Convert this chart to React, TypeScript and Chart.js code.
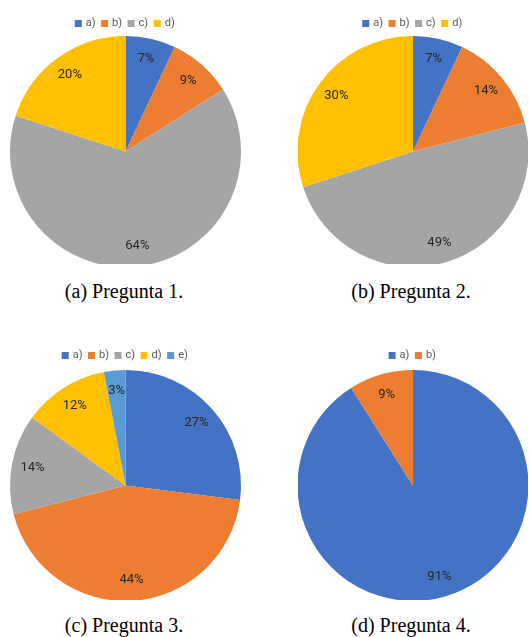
import React, { useEffect, useRef } from "react";
import { Chart, registerables } from "chart.js";

Chart.register(...registerables);

// ---- data ----
const labelsP1 = ["a)", "b)", "c)", "d)"];
const valuesP1 = [7, 9, 64, 20];

const labelsP2 = ["a)", "b)", "c)", "d)"];
const valuesP2 = [7, 14, 49, 30];

const labelsP3 = ["a)", "b)", "c)", "d)", "e)"];
const valuesP3 = [27, 44, 14, 12, 3];

const labelsP4 = ["a)", "b)"];
const valuesP4 = [91, 9];

const captions = ["(a) Pregunta 1.", "(b) Pregunta 2.", "(c) Pregunta 3.", "(d) Pregunta 4."];

const palette = ["#4472C4", "#ED7D31", "#A5A5A5", "#FFC000", "#5B9BD5"];

const pctLabels = {
  id: "pctLabels",
  afterDatasetsDraw(chart: any) {
    const ctx = chart.ctx;
    const meta = chart.getDatasetMeta(0);
    const data = chart.data.datasets[0].data;
    ctx.save();
    ctx.font = "13px Roboto";
    ctx.fillStyle = "#262626";
    ctx.textAlign = "center";
    ctx.textBaseline = "middle";
    meta.data.forEach((arc: any, i: number) => {
      const { x, y, startAngle, endAngle, outerRadius } = arc.getProps(
        ["x", "y", "startAngle", "endAngle", "outerRadius"],
        true
      );
      const mid = (startAngle + endAngle) / 2;
      const r = outerRadius * 0.82;
      ctx.fillText(data[i] + "%", x + Math.cos(mid) * r, y + Math.sin(mid) * r);
    });
    ctx.restore();
  },
};

type PieProps = {
  labels: string[];
  values: number[];
  left: number;
  top: number;
  width: number;
  height: number;
};

function PieChart({ labels, values, left, top, width, height }: PieProps) {
  const ref = useRef<HTMLCanvasElement | null>(null);
  useEffect(() => {
    if (!ref.current) return;
    const chart = new Chart(ref.current, {
      type: "pie",
      data: {
        labels,
        datasets: [
          {
            data: values,
            backgroundColor: palette.slice(0, values.length),
            borderWidth: 0,
            clip: false as any,
          },
        ],
      },
      options: {
        responsive: false,
        devicePixelRatio: 1,
        animation: false,
        radius: 115.5,
        layout: { padding: 0 },
        plugins: {
          legend: {
            position: "top",
            labels: {
              usePointStyle: true,
              pointStyle: "rect",
              boxWidth: 4,
              boxHeight: 7,
              padding: 7,
              color: "#595959",
              font: { size: 11, family: "Roboto" },
            },
          },
          tooltip: { enabled: false },
        },
      } as any,
      plugins: [pctLabels],
    });
    return () => chart.destroy();
  }, []);
  return (
    <canvas
      ref={ref}
      width={width}
      height={height}
      style={{ position: "absolute", left, top, width, height }}
    />
  );
}

const captionStyle: React.CSSProperties = {
  position: "absolute",
  width: 250,
  textAlign: "center",
  fontFamily: "'Liberation Serif', 'Times New Roman', serif",
  fontSize: 20,
  lineHeight: "23px",
  color: "#000",
  whiteSpace: "nowrap",
};

export default function App() {
  return (
    <div
      style={{
        position: "absolute",
        left: 0,
        top: 0,
        width: 529,
        height: 637,
        overflow: "hidden",
        background: "#fff",
      }}
    >
      <PieChart labels={labelsP1} values={valuesP1} left={0} top={11} width={251} height={253} />
      <PieChart labels={labelsP2} values={valuesP2} left={298} top={11} width={230} height={253} />
      <PieChart labels={labelsP3} values={valuesP3} left={0} top={343} width={251} height={257} />
      <PieChart labels={labelsP4} values={valuesP4} left={298} top={343} width={230} height={257} />
      <div style={{ ...captionStyle, left: -1, top: 280 }}>{captions[0]}</div>
      <div style={{ ...captionStyle, left: 286, top: 280 }}>{captions[1]}</div>
      <div style={{ ...captionStyle, left: -1, top: 614 }}>{captions[2]}</div>
      <div style={{ ...captionStyle, left: 286, top: 614 }}>{captions[3]}</div>
    </div>
  );
}
